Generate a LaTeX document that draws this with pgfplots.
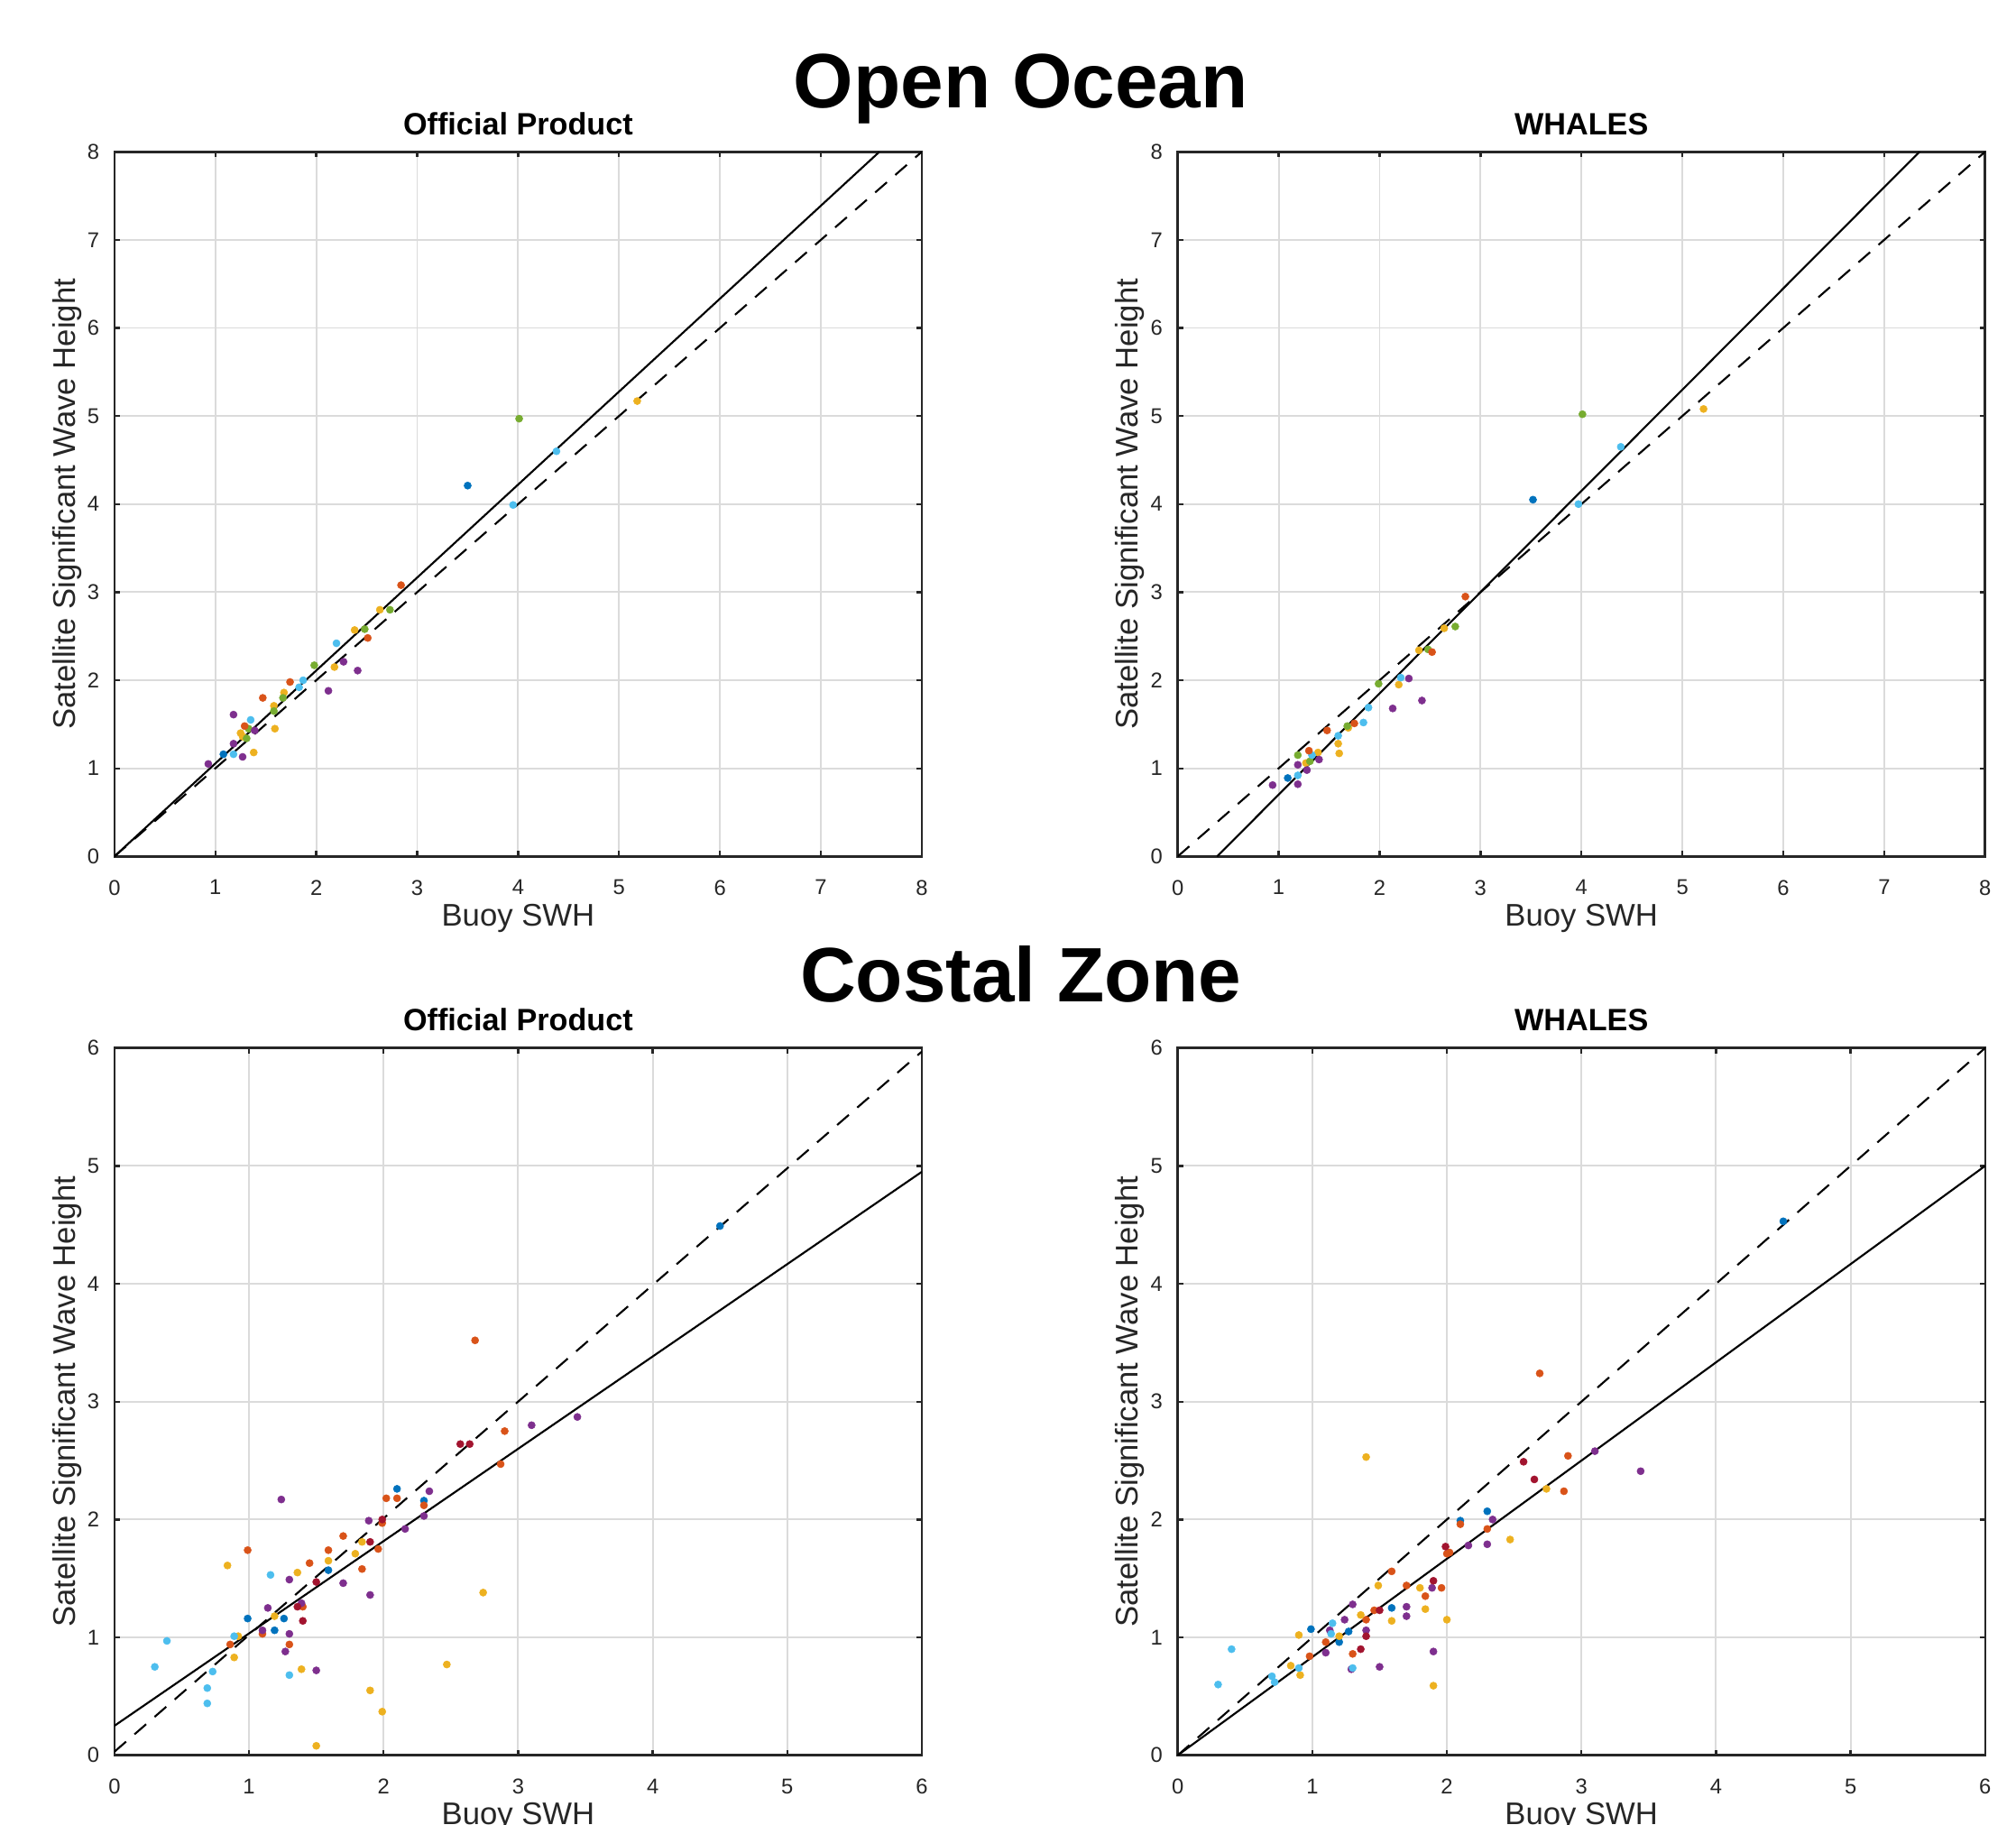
\documentclass[border=0pt]{standalone}
\usepackage{fontspec}
\setmainfont{Liberation Sans}
\usepackage{pgfplots}
\pgfplotsset{compat=1.18}

% MATLAB default line colours
\definecolor{mblue}{rgb}{0,0.447,0.741}
\definecolor{morange}{rgb}{0.850,0.325,0.098}
\definecolor{myellow}{rgb}{0.929,0.694,0.125}
\definecolor{mpurple}{rgb}{0.494,0.184,0.556}
\definecolor{mgreen}{rgb}{0.466,0.674,0.188}
\definecolor{mlblue}{rgb}{0.301,0.745,0.933}
\definecolor{mdred}{rgb}{0.635,0.078,0.184}
\definecolor{axgray}{rgb}{0.15,0.15,0.15}

\pgfplotsset{
  swh/.style={
    scale only axis,
    width=188.4pt,
    xmin=0, ymin=0,
    grid=major,
    grid style={line width=0.4pt, draw=black!14},
    axis line style={line width=0.55pt, draw=axgray},
    tick style={line width=0.5pt, draw=axgray},
    major tick length=1.3pt,
    tick align=inside,
    tick pos=both,
    tick label style={font=\fontsize{5}{6}\selectfont, text=axgray},
    /pgf/number format/assume math mode=true,
    xticklabel style={yshift=-2pt},
    every axis x label/.style={at={(axis description cs:0.5,0)}, anchor=base, yshift=-16.2pt},
    every axis y label/.style={at={(axis description cs:-0.059,0.5)}, rotate=90, anchor=center},
    label style={font=\fontsize{7.3}{8.5}\selectfont, text=axgray},
    every axis title/.style={at={(axis description cs:0.5,1)}, anchor=base, yshift=4pt},
    title style={font=\bfseries\fontsize{7.2}{8.5}\selectfont},
    xlabel={Buoy SWH},
    ylabel={Satellite Significant Wave Height},
  },
  ocean/.style={swh, height=164.4pt, xmax=8, ymax=8, xtick={0,...,8}, ytick={0,...,8}},
  coast/.style={swh, height=165pt, xmax=6, ymax=6, xtick={0,...,6}, ytick={0,...,6}},
  dots/.style={only marks, color=#1, mark=*, mark size=0.85pt,
    mark options={draw=#1, fill=#1, line width=0.1pt}},
  fit/.style={black, line width=0.45pt},
  oneone/.style={black, line width=0.45pt, dash pattern=on 3.6pt off 2.6pt},
}

\begin{document}
\begin{tikzpicture}
\path[use as bounding box] (0,0) rectangle (470.4pt,-425.7pt);
\clip (0,0) rectangle (470.4pt,-425.7pt);

\node[font=\bfseries\fontsize{18}{20}\selectfont, anchor=base] at (238.2pt,-25.1pt) {Open Ocean};
\node[font=\bfseries\fontsize{18}{20}\selectfont, anchor=base] at (238.2pt,-233.7pt) {Costal Zone};

% ---------------- open ocean, official product
\begin{axis}[ocean, at={(26.7pt,-199.8pt)}, anchor=south west, title={Official Product}]
\addplot[dots=myellow] coordinates {(5.18,5.17) (2.63,2.80) (2.38,2.57) (2.18,2.15) (1.68,1.86)
  (1.58,1.71) (1.59,1.45) (1.25,1.40) (1.27,1.36) (1.38,1.18)};
\addplot[dots=mgreen] coordinates {(4.01,4.97) (2.73,2.80) (2.48,2.58) (1.98,2.17) (1.67,1.80)
  (1.58,1.65) (1.33,1.45) (1.31,1.34)};
\addplot[dots=mlblue] coordinates {(4.38,4.60) (3.95,3.99) (2.20,2.42) (1.87,2.00) (1.83,1.92)
  (1.35,1.55) (1.18,1.16)};
\addplot[dots=mblue] coordinates {(3.50,4.21) (1.08,1.16)};
\addplot[dots=morange] coordinates {(2.84,3.08) (2.51,2.48) (1.74,1.98) (1.47,1.80) (1.29,1.48)};
\addplot[dots=mpurple] coordinates {(2.27,2.21) (2.41,2.11) (2.12,1.88) (1.18,1.61) (1.39,1.43)
  (1.18,1.28) (1.27,1.13) (0.93,1.05)};
\addplot[oneone] coordinates {(0,0) (8,8)};
\addplot[fit] coordinates {(0,0) (7.58,8)};
\end{axis}

% ---------------- open ocean, WHALES
\begin{axis}[ocean, at={(274.8pt,-199.8pt)}, anchor=south west, title={WHALES}]
\addplot[dots=myellow] coordinates {(5.21,5.08) (2.64,2.59) (2.39,2.34) (2.19,1.95) (1.69,1.46)
  (1.59,1.28) (1.60,1.17) (1.39,1.18) (1.27,1.06)};
\addplot[dots=mgreen] coordinates {(4.01,5.02) (2.75,2.61) (2.48,2.35) (1.99,1.96) (1.68,1.48)
  (1.19,1.15) (1.31,1.08)};
\addplot[dots=mlblue] coordinates {(4.39,4.65) (3.97,4.00) (2.21,2.03) (1.89,1.69) (1.84,1.52)
  (1.59,1.37) (1.33,1.15) (1.19,0.92)};
\addplot[dots=mblue] coordinates {(3.52,4.05) (1.09,0.89)};
\addplot[dots=morange] coordinates {(2.85,2.95) (2.52,2.32) (1.75,1.51) (1.48,1.43) (1.30,1.20)};
\addplot[dots=mpurple] coordinates {(2.29,2.02) (2.42,1.77) (2.13,1.68) (1.40,1.10) (1.19,1.04)
  (1.28,0.98) (1.19,0.82) (0.94,0.81)};
\addplot[oneone] coordinates {(0,0) (8,8)};
\addplot[fit] coordinates {(0.39,0) (7.35,8)};
\end{axis}

% ---------------- coastal zone, official product
\begin{axis}[coast, at={(26.7pt,-409.5pt)}, anchor=south west, title={Official Product}]
\addplot[dots=mblue] coordinates {(4.50,4.49) (2.10,2.26) (2.30,2.16) (1.59,1.57) (0.99,1.16)
  (1.26,1.16) (1.19,1.06)};
\addplot[dots=morange] coordinates {(2.68,3.52) (2.90,2.75) (2.87,2.47) (2.02,2.18) (2.10,2.18)
  (2.30,2.12) (1.99,1.97) (1.70,1.86) (1.96,1.75) (1.59,1.74) (0.99,1.74) (1.45,1.63)
  (1.84,1.58) (1.40,1.26) (1.10,1.03) (0.86,0.94) (1.30,0.94)};
\addplot[dots=mpurple] coordinates {(3.44,2.87) (3.10,2.80) (2.34,2.24) (2.30,2.03) (1.24,2.17)
  (1.89,1.99) (2.16,1.92) (1.30,1.49) (1.70,1.46) (1.90,1.36) (1.14,1.25) (1.39,1.29)
  (1.10,1.06) (1.30,1.03) (1.27,0.88) (1.50,0.72)};
\addplot[dots=mdred] coordinates {(2.57,2.64) (2.64,2.64) (1.99,2.00) (1.90,1.81) (1.50,1.47)
  (1.36,1.26) (1.40,1.14)};
\addplot[dots=myellow] coordinates {(1.84,1.81) (1.79,1.71) (1.59,1.65) (0.84,1.61) (1.36,1.55)
  (2.74,1.38) (1.19,1.18) (0.92,1.01) (0.89,0.83) (1.39,0.73) (2.47,0.77) (1.90,0.55)
  (1.99,0.37) (1.50,0.08)};
\addplot[dots=mlblue] coordinates {(1.16,1.53) (0.89,1.01) (0.39,0.97) (0.30,0.75) (0.73,0.71)
  (1.30,0.68) (0.69,0.57) (0.69,0.44)};
\addplot[oneone] coordinates {(0,0.03) (6,5.97)};
\addplot[fit] coordinates {(0,0.25) (6,4.95)};
\end{axis}

% ---------------- coastal zone, WHALES
\begin{axis}[coast, at={(274.8pt,-409.5pt)}, anchor=south west, title={WHALES}]
\addplot[dots=mblue] coordinates {(4.50,4.53) (2.30,2.07) (2.10,1.99) (1.59,1.25) (0.99,1.07)
  (1.27,1.05) (1.20,0.96)};
\addplot[dots=morange] coordinates {(2.69,3.24) (2.90,2.54) (2.87,2.24) (2.10,1.96) (2.30,1.92)
  (2.02,1.72) (2.00,1.71) (1.59,1.56) (1.70,1.44) (1.96,1.42) (1.84,1.35) (1.46,1.23)
  (1.40,1.15) (1.10,0.96) (1.30,0.86) (0.98,0.84)};
\addplot[dots=myellow] coordinates {(1.40,2.53) (2.74,2.26) (2.47,1.83) (1.49,1.44) (1.80,1.42)
  (1.84,1.24) (1.36,1.19) (1.59,1.14) (2.00,1.15) (0.90,1.02) (1.20,1.01) (0.84,0.76)
  (0.91,0.68) (1.90,0.59)};
\addplot[dots=mpurple] coordinates {(3.10,2.58) (3.44,2.41) (2.34,2.00) (2.16,1.78) (2.30,1.79)
  (1.89,1.42) (1.30,1.28) (1.70,1.26) (1.70,1.18) (1.24,1.15) (1.13,1.06) (1.40,1.06)
  (1.10,0.87) (1.90,0.88) (1.29,0.73) (1.50,0.75)};
\addplot[dots=mdred] coordinates {(2.57,2.49) (2.65,2.34) (1.99,1.77) (1.90,1.48) (1.50,1.23)
  (1.40,1.01) (1.36,0.90)};
\addplot[dots=mlblue] coordinates {(1.15,1.12) (1.14,1.03) (0.40,0.90) (0.90,0.74) (1.30,0.74)
  (0.70,0.67) (0.72,0.62) (0.30,0.60)};
\addplot[oneone] coordinates {(0,0) (6,6)};
\addplot[fit] coordinates {(0,0) (6,5.0)};
\end{axis}
\end{tikzpicture}
\end{document}
